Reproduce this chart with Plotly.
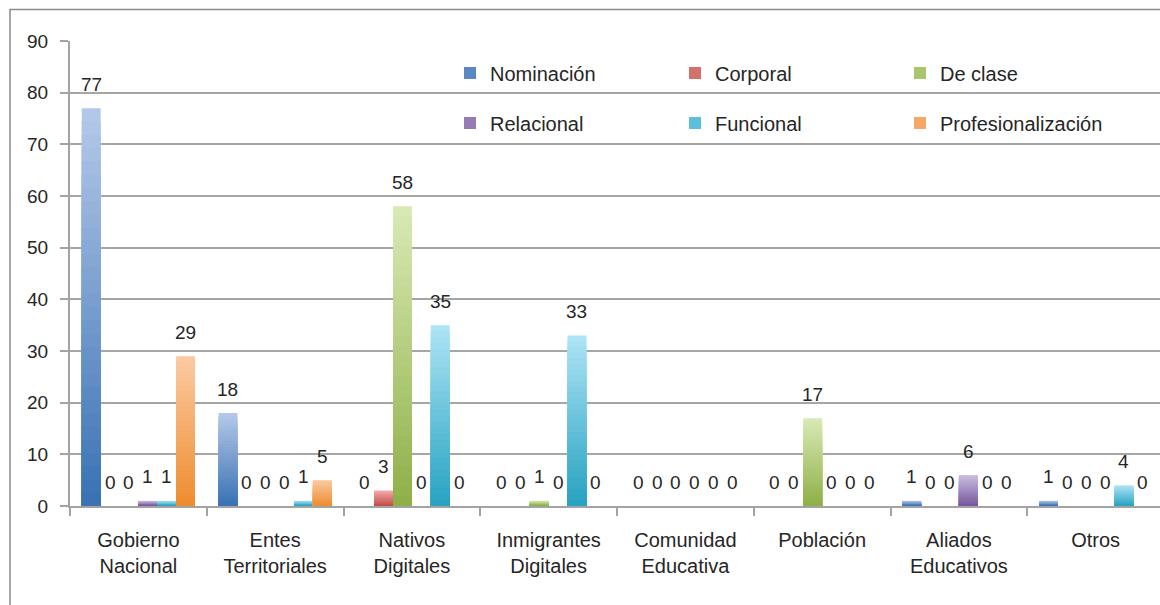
import plotly.graph_objects as go

categories = ["Gobierno Nacional", "Entes Territoriales", "Nativos Digitales",
              "Inmigrantes Digitales", "Comunidad Educativa", "Población",
              "Aliados Educativos", "Otros"]
series_names = ["Nominación", "Corporal", "De clase", "Relacional", "Funcional",
                "Profesionalización"]
nominacion = [77, 18, 0, 0, 0, 0, 1, 1]
corporal = [0, 0, 3, 0, 0, 0, 0, 0]
de_clase = [0, 0, 58, 1, 0, 17, 0, 0]
relacional = [1, 0, 0, 0, 0, 0, 6, 0]
funcional = [1, 1, 35, 33, 0, 0, 0, 4]
profesionalizacion = [29, 5, 0, 0, 0, 0, 0, 0]
y_ticks = [0, 10, 20, 30, 40, 50, 60, 70, 80, 90]

series_values = [nominacion, corporal, de_clase, relacional, funcional, profesionalizacion]
# (top light colour, bottom dark colour, legend colour)
colors = [
    ("#b3c8e8", "#3a72b4", "#5b88c4"),
    ("#f4aaa8", "#c24e4a", "#d6706d"),
    ("#d8e9b4", "#8fb048", "#a9c66e"),
    ("#cabde0", "#76599c", "#957cb6"),
    ("#ace3f5", "#28a3c1", "#5cc0dc"),
    ("#fbc9a0", "#ee8d30", "#f5a866"),
]

tick_text = [c.replace(" ", "<br>", 1) for c in categories]

def hex2rgb(h):
    h = h.lstrip("#")
    return tuple(int(h[i:i + 2], 16) for i in (0, 2, 4))

def mix(c1, c2, t):
    a, b = hex2rgb(c1), hex2rgb(c2)
    return "rgb(%d,%d,%d)" % tuple(round(a[k] + (b[k] - a[k]) * t) for k in range(3))

W = 0.138
K = 30
FONT = "Liberation Sans, Arial, sans-serif"
TXT = "#262626"
fig = go.Figure()

for j, (name, vals) in enumerate(zip(series_names, series_values)):
    top, bot, leg = colors[j]
    off = -3 * W + j * W
    for k in range(K):
        frac = (K - k) / K
        fig.add_trace(go.Bar(
            x=categories, y=[v * frac for v in vals], offset=off, width=W,
            marker=dict(color=mix(top, bot, k / (K - 1)), line=dict(width=0)),
            showlegend=False, hoverinfo="skip"))
    fig.add_trace(go.Bar(
        x=categories, y=[None] * len(categories), name=name,
        marker=dict(color=leg, line=dict(width=0)),
        legend="legend" if j < 3 else "legend2", showlegend=True))
    for i, v in enumerate(vals):
        fig.add_annotation(x=i + off + W / 2, y=v, xref="x", yref="y",
                           text=str(v), showarrow=False, yanchor="middle",
                           yshift=24, font=dict(size=19, color=TXT, family=FONT))

L, R, T, B = 70, 0, 41, 99
PW, PH = 1160 - L - R, 605 - T - B

def px_x(p):
    return (p - L) / PW

def px_y(p):
    return (605 - B - p) / PH

# white backing behind legend (covers gridlines)
fig.add_shape(type="rect", xref="paper", yref="paper",
              x0=px_x(457), x1=px_x(1131), y0=px_y(147), y1=px_y(45),
              fillcolor="white", line=dict(width=0), layer="between")
# outer chart border
fig.add_shape(type="rect", xref="paper", yref="paper",
              x0=px_x(10), x1=px_x(1175), y0=px_y(620), y1=px_y(9.5),
              fillcolor="rgba(0,0,0,0)", line=dict(color="#8a8a8a", width=1.5),
              layer="above")

legend_common = dict(orientation="h", xanchor="left", yanchor="middle",
                     bgcolor="rgba(0,0,0,0)", entrywidth=180, entrywidthmode="pixels",
                     font=dict(size=20, color=TXT, family=FONT))
fig.update_layout(
    width=1160, height=605,
    margin=dict(l=L, r=R, t=T, b=B, autoexpand=False),
    paper_bgcolor="white", plot_bgcolor="white",
    barmode="overlay",
    font=dict(family=FONT, color=TXT, size=20),
    legend=dict(x=px_x(450), y=px_y(73), **legend_common),
    legend2=dict(x=px_x(450), y=px_y(123), **legend_common),
    xaxis=dict(type="category", categoryorder="array", categoryarray=categories,
               tickvals=categories, ticktext=tick_text, tickangle=0,
               range=[-0.5, 7.5 - 4 / 136.25],
               showline=True, linecolor="#a3a3a3", linewidth=2,
               ticks="outside", tickson="boundaries", ticklen=8, tickcolor="#a3a3a3",
               tickwidth=2, showgrid=False, ticklabelstandoff=15,
               tickfont=dict(size=20, color=TXT, family=FONT)),
    yaxis=dict(range=[0, 90], tickvals=y_ticks, showgrid=True, gridcolor="#a6a6a6",
               gridwidth=2, showline=True, linecolor="#a3a3a3", linewidth=2,
               ticks="outside", ticklen=8, tickcolor="#a3a3a3", tickwidth=2,
               zeroline=False, ticklabelstandoff=8,
               tickfont=dict(size=19, color=TXT, family=FONT)),
)

fig.write_html("out.html", config={"displayModeBar": False},
               post_script="document.body.style.margin='0';document.body.style.overflow='hidden';")
